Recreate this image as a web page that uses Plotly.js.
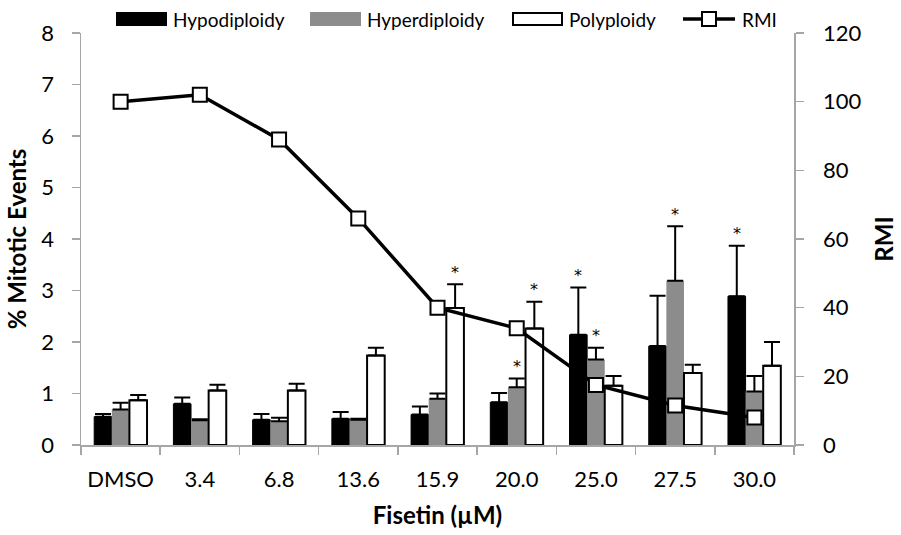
<!DOCTYPE html>
<html>
<head>
<meta charset="utf-8">
<script src="https://cdn.plot.ly/plotly-3.0.1.min.js"></script>
<style>
  html, body { margin: 0; padding: 0; background: #ffffff; }
  #chart { width: 901px; height: 535px; }
</style>
</head>
<body>
<div id="chart"></div>
<script>
// Fisetin concentrations (categories)
const doses = ['DMSO', '3.4', '6.8', '13.6', '15.9', '20.0', '25.0', '27.5', '30.0'];

// % mitotic events per aberration type, with SEM (upper error only)
const hypo      = [0.55, 0.80, 0.49, 0.51, 0.59, 0.83, 2.14, 1.92, 2.89];
const hypoErr   = [0.05, 0.12, 0.11, 0.13, 0.16, 0.18, 0.92, 0.98, 0.98];
const hyper     = [0.69, 0.48, 0.46, 0.49, 0.90, 1.12, 1.66, 3.19, 1.04];
const hyperErr  = [0.13, 0.02, 0.07, 0.02, 0.10, 0.17, 0.23, 1.06, 0.30];
const poly      = [0.87, 1.06, 1.06, 1.74, 2.66, 2.26, 1.15, 1.40, 1.54];
const polyErr   = [0.10, 0.11, 0.13, 0.15, 0.46, 0.52, 0.19, 0.16, 0.46];

// Relative mitotic index (right axis)
const rmi = [100, 102, 89, 66, 40, 34, 17.5, 11.5, 8];

// Significance flags (1 = marked with *)
const hypoSig  = [0, 0, 0, 0, 0, 0, 1, 0, 1];
const hyperSig = [0, 0, 0, 0, 0, 1, 1, 1, 0];
const polySig  = [0, 0, 0, 0, 1, 1, 0, 0, 0];

const FONT = 'Lato, "Open Sans", sans-serif';
const AXIS_GRAY = '#a6a6a6';
const GRAY_BAR = '#8c8c8c';

function errBars(arr) {
  return {
    type: 'data', symmetric: false, array: arr,
    arrayminus: arr.map(() => 0),
    color: '#000000', thickness: 2, width: 8
  };
}

const traces = [
  {
    type: 'bar', name: 'Hypodiploidy', x: doses, y: hypo,
    marker: { color: '#000000', line: { color: '#000000', width: 1 } },
    error_y: errBars(hypoErr), yaxis: 'y', hoverinfo: 'y'
  },
  {
    type: 'bar', name: 'Hyperdiploidy', x: doses, y: hyper,
    marker: { color: GRAY_BAR, line: { color: GRAY_BAR, width: 0 } },
    error_y: errBars(hyperErr), yaxis: 'y', hoverinfo: 'y'
  },
  {
    type: 'bar', name: 'Polyploidy', x: doses, y: poly,
    marker: { color: '#ffffff', line: { color: '#000000', width: 2 } },
    error_y: errBars(polyErr), yaxis: 'y', hoverinfo: 'y'
  },
  {
    type: 'scatter', mode: 'lines+markers', name: 'RMI', x: doses, y: rmi,
    yaxis: 'y2',
    line: { color: '#000000', width: 3.5 },
    marker: { symbol: 'square', size: 14, color: '#ffffff', line: { color: '#000000', width: 2 } },
    hoverinfo: 'y'
  }
];

// Asterisks above significant bars (x given as category index)
const barShift = [-17.6, 0, 17.6];
const annotations = [];
[[hypo, hypoErr, hypoSig], [hyper, hyperErr, hyperSig], [poly, polyErr, polySig]].forEach((s, k) => {
  s[2].forEach((flag, i) => {
    if (flag) {
      annotations.push({
        x: i, y: s[0][i] + s[1][i], xref: 'x', yref: 'y',
        text: '*', showarrow: false, xshift: barShift[k], yshift: 12,
        yanchor: 'middle', font: { family: '"DejaVu Sans", sans-serif', size: 16, color: '#000000' }
      });
    }
  });
});

// Legend row across the top
const L = 81, R = 794, T = 33, B = 445;
const px = v => (v - L) / (R - L);
const py = v => (B - v) / (B - T);
const shapes = [];
const LEG_Y = 19;
const legendItems = [
  { label: 'Hypodiploidy', x0: 117, x1: 166, kind: 'bar', fill: '#000000', line: '#000000' },
  { label: 'Hyperdiploidy', x0: 311, x1: 360, kind: 'bar', fill: GRAY_BAR, line: GRAY_BAR },
  { label: 'Polyploidy', x0: 513, x1: 562, kind: 'bar', fill: '#ffffff', line: '#000000' },
  { label: 'RMI', x0: 683, x1: 735, kind: 'line' }
];
legendItems.forEach(it => {
  if (it.kind === 'bar') {
    shapes.push({
      type: 'rect', xref: 'paper', yref: 'paper',
      x0: px(it.x0), x1: px(it.x1), y0: py(LEG_Y + 6), y1: py(LEG_Y - 6),
      fillcolor: it.fill, line: { color: it.line, width: 2 }
    });
  } else {
    const mid = (it.x0 + it.x1) / 2;
    shapes.push({
      type: 'line', xref: 'paper', yref: 'paper',
      x0: px(it.x0), x1: px(it.x1), y0: py(LEG_Y), y1: py(LEG_Y),
      line: { color: '#000000', width: 3.5 }
    });
    shapes.push({
      type: 'rect', xref: 'paper', yref: 'paper',
      x0: px(mid - 7), x1: px(mid + 7), y0: py(LEG_Y + 7), y1: py(LEG_Y - 7),
      fillcolor: '#ffffff', line: { color: '#000000', width: 2 }
    });
  }
  annotations.push({
    x: px(it.x1 + 5), y: py(LEG_Y + 1), xref: 'paper', yref: 'paper',
    text: it.label, showarrow: false, xanchor: 'left', yanchor: 'middle',
    font: { family: FONT, size: 19, color: '#000000' }
  });
});

const axisCommon = {
  showline: true, linecolor: AXIS_GRAY, linewidth: 1.5,
  ticks: 'outside', ticklen: 8, tickcolor: AXIS_GRAY, tickwidth: 1.5,
  showgrid: false, zeroline: false,
  tickfont: { family: FONT, size: 22, color: '#000000' }
};

const layout = {
  width: 901, height: 535,
  margin: { l: 81, r: 107, t: 33, b: 90, pad: 0 },
  paper_bgcolor: '#ffffff', plot_bgcolor: '#ffffff',
  font: { family: FONT, color: '#000000', size: 20 },
  showlegend: false,
  barmode: 'group', bargap: 0.333, bargroupgap: 0,
  xaxis: Object.assign({}, axisCommon, {
    type: 'category', tickson: 'boundaries',
    range: [-0.5, doses.length - 0.5], autorange: false,
    ticklabelstandoff: 14,
    title: { text: '<b>Fisetin (µM)</b>', font: { family: FONT, size: 24 }, standoff: 16 }
  }),
  yaxis: Object.assign({}, axisCommon, {
    range: [0, 8], dtick: 1, autorange: false,
    ticklabelstandoff: 13,
    title: { text: '<b>% Mitotic Events</b>', font: { family: FONT, size: 24 }, standoff: 8 }
  }),
  yaxis2: Object.assign({}, axisCommon, {
    overlaying: 'y', side: 'right', range: [0, 120], dtick: 20, autorange: false,
    ticklabelstandoff: 15,
    title: { text: '<b>RMI</b>', font: { family: FONT, size: 24 }, standoff: 16 }
  }),
  shapes: shapes,
  annotations: annotations
};

Plotly.newPlot('chart', traces, layout, { displayModeBar: false, staticPlot: true });
</script>
</body>
</html>
